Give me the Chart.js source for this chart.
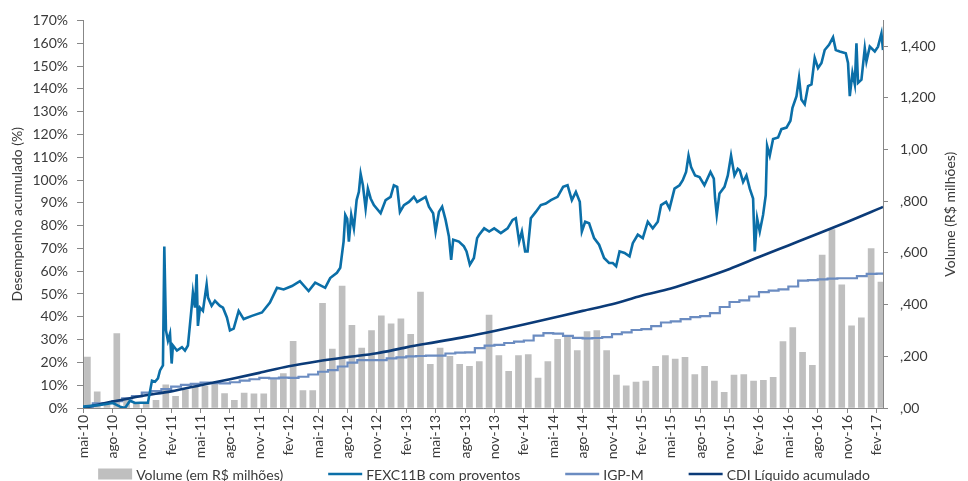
<!DOCTYPE html>
<html>
<head>
<meta charset="utf-8">
<script src="https://cdn.jsdelivr.net/npm/chart.js@4.4.0/dist/chart.umd.min.js"></script>
<style>
  html, body { margin: 0; padding: 0; background: #fff; }
  #wrap { width: 968px; height: 481px; }
</style>
</head>
<body>
<div id="wrap"><canvas id="chart" width="968" height="481"></canvas></div>
<script>
// quarterly tick labels, one every 3 months starting mai-10 (month 0)
const tickLabels = ["mai-10","ago-10","nov-10","fev-11","mai-11","ago-11","nov-11","fev-12","mai-12","ago-12",
  "nov-12","fev-13","mai-13","ago-13","nov-13","fev-14","mai-14","ago-14","nov-14","fev-15","mai-15","ago-15",
  "nov-15","fev-16","mai-16","ago-16","nov-16","fev-17"];

const leftTicks = [0,10,20,30,40,50,60,70,80,90,100,110,120,130,140,150,160,170];
const leftTickLabels = ["0%","10%","20%","30%","40%","50%","60%","70%","80%","90%","100%","110%","120%","130%","140%","150%","160%","170%"];
const rightTicks = [0,0.2,0.4,0.6,0.8,1.0,1.2,1.4];
const rightTickLabels = [",00",",200",",400",",600",",800","1,00","1,200","1,400"];

// monthly volume (R$ milhões), mai-10 .. fev-17
const volume = [0.197,0.063,0.01,0.288,0.04,0.02,0.02,0.03,0.09,0.045,
  0.07,0.08,0.085,0.1,0.056,0.03,0.058,0.055,0.055,0.11,
  0.133,0.258,0.067,0.067,0.405,0.228,0.472,0.32,0.232,0.3,
  0.357,0.326,0.345,0.285,0.449,0.169,0.232,0.2,0.169,0.161,
  0.18,0.36,0.203,0.142,0.203,0.207,0.116,0.18,0.266,0.277,
  0.222,0.296,0.3,0.222,0.127,0.086,0.1,0.104,0.161,0.203,
  0.189,0.196,0.129,0.161,0.104,0.061,0.127,0.129,0.104,0.107,
  0.119,0.257,0.311,0.215,0.165,0.592,0.69,0.477,0.318,0.349,0.617,0.487];

// FEXC11B com proventos (% acumulado), x in months since mai-10
const fexcMonths = [0,1.73,3.06,3.78,4.29,4.8,5.31,5.82,6.63,7.04,7.35,7.65,7.86,8.16,8.3,8.47,8.67,8.88,9.05,9.18,
  9.59,10.1,10.41,10.71,11.12,11.22,11.43,11.6,11.73,11.94,12.24,12.62,12.76,13.13,13.47,13.98,14.29,14.69,15.0,15.38,
  15.89,16.4,17.24,18.27,19.08,19.8,20.48,21.33,22.14,23.03,23.7,24.72,25.23,25.92,26.26,26.6,26.77,26.97,27.14,27.38,
  27.65,27.93,28.16,28.34,28.57,28.85,29.08,29.36,29.69,30.38,30.89,31.4,31.73,32.07,32.35,32.76,33.27,33.78,34.11,34.97,
  35.31,35.74,35.99,36.33,36.66,37.01,37.35,37.58,37.79,38.37,38.88,39.15,39.49,39.9,40.23,40.44,40.95,41.46,41.97,42.65,
  43.34,43.85,44.18,44.52,44.8,45.13,45.38,45.71,46.22,46.73,47.24,47.76,48.44,49.01,49.46,49.9,50.31,50.71,50.92,51.26,
  51.66,52.17,52.68,53.19,53.7,54.08,54.42,54.77,55.28,55.79,56.12,56.63,57.14,57.65,58.16,58.67,59.01,59.52,59.87,60.38,
  60.89,61.22,61.56,61.81,62.07,62.48,62.93,63.43,64.05,64.39,64.52,64.69,64.97,65.48,65.82,66.15,66.5,66.84,67.04,67.38,
  67.72,68.06,68.4,68.57,68.81,69.08,69.42,69.69,69.83,70.1,70.44,70.95,71.29,71.81,72.21,72.42,72.83,73.09,73.33,73.67,
  74.01,74.36,74.69,75.03,75.38,75.71,76.15,76.56,76.84,77.24,77.86,78.09,78.27,78.54,78.78,78.95,79.11,79.46,79.8,79.97,
  80.31,80.82,81.15,81.5,81.66];
const fexcValues = [0.6,1.3,2.2,0.6,0,3.2,2.2,2.3,2.3,12,11.5,13,16.5,18.7,70.8,34,29.5,32.6,19.5,27.4,
  25.2,26.7,25.2,27.4,45.6,50.6,44,58.6,36,44,42.6,54.2,48.4,44.8,47,44.8,44,39.7,34,34.8,
  42.6,39,40.4,41.9,46.2,52.7,52,53.5,55.6,51.3,55,52.7,57,59.3,61.5,73,84.7,83,73,84.7,
  78.8,91.2,94.8,102.7,97.7,87.5,96.2,91.9,89,85.4,91.2,92.6,97.7,97,86,89,90.4,92.6,90.4,92.6,
  88.3,85.4,77.4,86,88.3,82.5,75.2,65,73.8,73,70.9,68.7,62.9,65.8,74.5,76,78.8,77.4,78.8,76.7,
  78.8,82.5,83.2,73,77.4,68.7,68.7,83.2,86,89,89.7,91.2,92.6,97,97.7,91.2,94.8,90.4,77.4,81.7,
  81,74.5,71.6,65.8,63.6,63.6,62.2,68.7,68,66.5,72.3,76,74.5,81.7,78.8,81.7,89,90.4,87.5,96.2,
  97.7,99.9,103.5,110.7,105.7,102,101.3,97.7,103.5,100.6,91.9,84.7,94.1,97,102,110.7,102,104.9,104.2,99.1,
  102,96.2,91.9,68.7,83.2,77.4,84.7,93.3,115,110.7,118,118.7,122.3,123,126,131.7,136.8,144.8,135.3,133.2,
  141.2,141.9,153.5,149.1,151.3,157,159.3,162.6,157,156.4,155.6,151.3,136.8,147,142,160,142.6,144,157.8,152,
  158.5,156.4,158.5,164.3,157];

// IGP-M acumulado (%), one value per month (month index = position), last one at the axis end
const igpmValues = [0,2.0,2.2,3.0,4.2,5.2,6.7,7.4,8.3,9.4,10.1,10.6,11.1,10.9,10.8,11.3,12.0,12.6,13.2,13.0,
  13.3,13.2,13.7,14.7,15.9,16.6,18.2,19.9,21.0,21.0,21.0,21.8,22.2,22.6,22.8,23.0,23.0,23.9,24.3,24.4,
  26.3,27.4,27.7,28.5,29.1,29.6,31.7,32.8,32.6,31.6,30.8,30.5,30.7,31.1,32.4,33.2,34.2,34.6,35.9,37.5,
  38.0,39.0,39.9,40.3,41.6,44.3,46.5,47.2,48.9,50.8,51.5,52.0,53.3,55.9,56.1,56.4,56.7,56.9,56.9,57.8,
  58.8,58.9,59.4];

// CDI Líquido acumulado (%), read at each quarter
const cdiMonths = [0,3,6,9,12,15,18,21,24,27,30,33,36,39,42,45,48,51,54,57,60,63,66,69,72,75,78,81,81.66];
const cdiValues = [0,2.8,5.3,7.3,10,12.6,15.4,18.3,20.5,22.3,24,26.6,28.9,31.2,33.8,36.6,39.6,42.6,45.5,49.2,
  52.4,56.5,61,66.2,71.3,76.4,81.6,87,88.2];

const FONT = "Lato, 'Open Sans', sans-serif";
const TEXT = "#3a3a3a";
const AXIS = "#878787";
const C_FEXC = "#0b6fa8";
const C_IGPM = "#6b8cc1";
const C_CDI = "#0b3b78";
const C_VOL = "#bfbfbf";
const X_END = 81.66;

const legendItems = [
  { text: "Volume (em R$ milhões)", color: C_VOL, box: true },
  { text: "FEXC11B com proventos", color: C_FEXC },
  { text: "IGP-M", color: C_IGPM },
  { text: "CDI Líquido acumulado", color: C_CDI }
];

// legend and right axis title drawn by hand (legend spacing / title direction)
const extras = {
  id: "extras",
  afterDraw(chart) {
    const ctx = chart.ctx;
    ctx.save();
    ctx.font = "14px " + FONT;
    ctx.fillStyle = TEXT;
    ctx.textBaseline = "middle";
    const markW = 34, markGap = 4, itemGap = 45, y = 474;
    const widths = legendItems.map(it => markW + markGap + ctx.measureText(it.text).width);
    const total = widths.reduce((a, b) => a + b, 0) + itemGap * (widths.length - 1);
    let x = chart.width / 2 - total / 2;
    legendItems.forEach((it, k) => {
      if (it.box) {
        ctx.fillStyle = it.color;
        ctx.fillRect(x, y - 5.5, markW, 11);
      } else {
        ctx.strokeStyle = it.color;
        ctx.lineWidth = 2.5;
        ctx.beginPath();
        ctx.moveTo(x, y);
        ctx.lineTo(x + markW, y);
        ctx.stroke();
      }
      ctx.fillStyle = TEXT;
      ctx.textAlign = "left";
      ctx.fillText(it.text, x + markW + markGap, y + 1);
      x += widths[k] + itemGap;
    });
    const area = chart.chartArea;
    ctx.translate(950, (area.top + area.bottom) / 2);
    ctx.rotate(-Math.PI / 2);
    ctx.textAlign = "center";
    ctx.fillText("Volume (R$ milhões)", 0, 0);
    ctx.restore();
  }
};

new Chart(document.getElementById("chart"), {
  data: {
    datasets: [
      {
        type: "line", label: "FEXC11B com proventos", yAxisID: "y",
        data: fexcMonths.map((m, k) => ({ x: m, y: fexcValues[k] })),
        borderColor: C_FEXC, borderWidth: 2.6, pointRadius: 0, tension: 0
      },
      {
        type: "line", label: "CDI Líquido acumulado", yAxisID: "y",
        data: cdiMonths.map((m, k) => ({ x: m, y: cdiValues[k] })),
        borderColor: C_CDI, borderWidth: 2.6, pointRadius: 0, cubicInterpolationMode: "monotone"
      },
      {
        type: "line", label: "IGP-M", yAxisID: "y",
        data: igpmValues.map((v, i) => ({ x: Math.min(i, X_END), y: v })),
        borderColor: C_IGPM, borderWidth: 2.2, pointRadius: 0, stepped: "before"
      },
      {
        type: "bar", label: "Volume (em R$ milhões)", yAxisID: "y1",
        data: volume.map((v, i) => ({ x: i + 0.45, y: v })),
        backgroundColor: C_VOL, barThickness: 6
      }
    ]
  },
  options: {
    responsive: false,
    animation: false,
    devicePixelRatio: 1,
    layout: { padding: { top: 17, left: 0, right: 0, bottom: 0 } },
    plugins: { legend: { display: false }, tooltip: { enabled: false } },
    scales: {
      x: {
        type: "linear", min: 0, max: X_END, offset: false,
        afterBuildTicks: s => { s.ticks = tickLabels.map((_, k) => ({ value: k * 3 })); },
        afterFit: s => { s.height = 73; s.paddingLeft = 0; s.paddingRight = 0; },
        ticks: {
          autoSkip: false, minRotation: 90, maxRotation: 90, padding: 2,
          callback: v => tickLabels[Math.round(v / 3)],
          font: { family: FONT, size: 14 }, color: TEXT
        },
        grid: { offset: false, drawOnChartArea: false, drawTicks: true, tickLength: 5, color: AXIS },
        border: { color: AXIS, width: 1 }
      },
      y: {
        position: "left", min: 0, max: 170,
        afterBuildTicks: s => { s.ticks = leftTicks.map(v => ({ value: v })); },
        afterFit: s => { s.width = 83; },
        ticks: {
          padding: 9,
          callback: (v, i) => leftTickLabels[i],
          font: { family: FONT, size: 14 }, color: TEXT
        },
        title: {
          display: true, text: "Desempenho acumulado (%)",
          font: { family: FONT, size: 14 }, color: TEXT, padding: { top: 9, bottom: 0 }
        },
        grid: { drawOnChartArea: false, drawTicks: true, tickLength: 6, color: AXIS },
        border: { color: AXIS, width: 1 }
      },
      y1: {
        position: "right", min: 0, max: 1.5,
        afterBuildTicks: s => { s.ticks = rightTicks.map(v => ({ value: v })); },
        afterFit: s => { s.width = 85; },
        ticks: {
          padding: 12,
          callback: (v, i) => rightTickLabels[i],
          font: { family: FONT, size: 14 }, color: TEXT
        },
        grid: { drawOnChartArea: false, drawTicks: true, tickLength: 5, color: AXIS },
        border: { color: AXIS, width: 1 }
      }
    }
  },
  plugins: [extras]
});
</script>
</body>
</html>
